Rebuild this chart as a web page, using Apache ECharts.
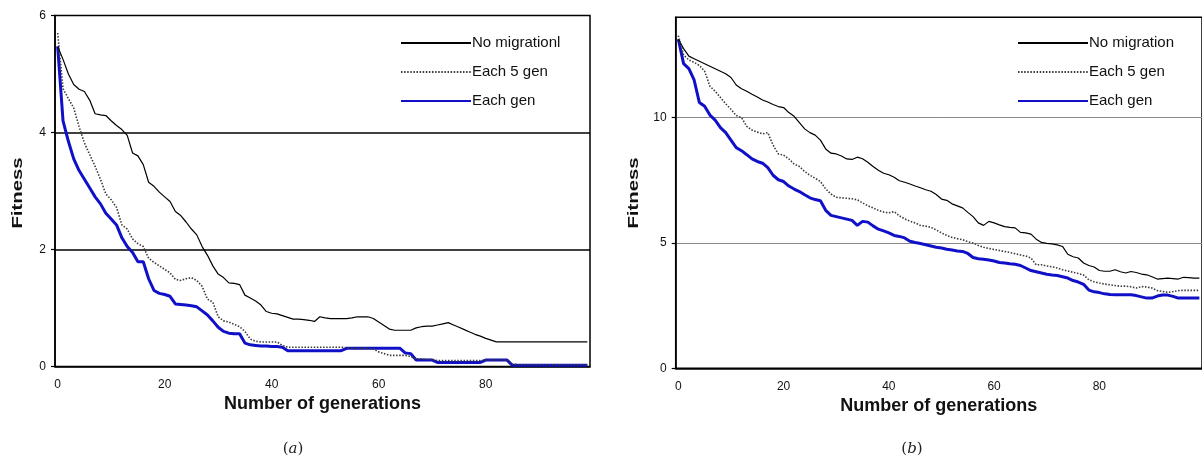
<!DOCTYPE html>
<html>
<head>
<meta charset="utf-8">
<script src="https://cdn.jsdelivr.net/npm/echarts@6/dist/echarts.min.js"></script>
<style>
  html, body { margin: 0; padding: 0; background: #fff; }
  #chart { width: 1202px; height: 459px; }
</style>
</head>
<body>
<div id="chart"></div>
<script>
// Generations 0..99 on both panels
const generations = Array.from({ length: 100 }, (_, i) => String(i));

// Panel (a): best fitness per generation
const aNoMigration = [
  5.47, 5.25, 5.00, 4.82, 4.74, 4.70, 4.55, 4.32, 4.30, 4.29,
  4.20, 4.12, 4.05, 3.95, 3.65, 3.60, 3.45, 3.15, 3.08, 2.98,
  2.90, 2.82, 2.65, 2.58, 2.47, 2.35, 2.25, 2.05, 1.90, 1.72,
  1.58, 1.52, 1.43, 1.42, 1.40, 1.22, 1.17, 1.12, 1.05, 0.94,
  0.91, 0.90, 0.87, 0.84, 0.81, 0.81, 0.80, 0.79, 0.77, 0.85,
  0.83, 0.82, 0.82, 0.82, 0.82, 0.83, 0.85, 0.85, 0.85, 0.82,
  0.76, 0.70, 0.64, 0.62, 0.62, 0.62, 0.62, 0.66, 0.68, 0.69,
  0.69, 0.71, 0.73, 0.75, 0.71, 0.67, 0.63, 0.59, 0.55, 0.52,
  0.48, 0.45, 0.42, 0.42, 0.42, 0.42, 0.42, 0.42, 0.42, 0.42,
  0.42, 0.42, 0.42, 0.42, 0.42, 0.42, 0.42, 0.42, 0.42, 0.42
];
const aEach5Gen = [
  5.70, 4.75, 4.58, 4.42, 4.10, 3.82, 3.62, 3.42, 3.20, 2.95,
  2.85, 2.72, 2.42, 2.35, 2.18, 2.10, 2.05, 1.85, 1.78, 1.72,
  1.66, 1.60, 1.49, 1.47, 1.50, 1.52, 1.47, 1.37, 1.15, 1.10,
  0.85, 0.78, 0.76, 0.72, 0.68, 0.60, 0.47, 0.43, 0.42, 0.42,
  0.42, 0.42, 0.36, 0.33, 0.33, 0.33, 0.33, 0.33, 0.33, 0.33,
  0.33, 0.33, 0.33, 0.33, 0.32, 0.31, 0.31, 0.31, 0.31, 0.30,
  0.25, 0.22, 0.19, 0.19, 0.19, 0.19, 0.17, 0.13, 0.13, 0.12,
  0.12, 0.10, 0.10, 0.10, 0.10, 0.10, 0.10, 0.10, 0.10, 0.10,
  0.11, 0.11, 0.11, 0.11, 0.11, 0.04, 0.03, 0.03, 0.03, 0.03,
  0.03, 0.03, 0.03, 0.03, 0.03, 0.03, 0.03, 0.03, 0.03, 0.03
];
const aEachGen = [
  5.47, 4.20, 3.85, 3.55, 3.35, 3.20, 3.05, 2.90, 2.78, 2.62,
  2.52, 2.42, 2.20, 2.05, 1.95, 1.79, 1.79, 1.50, 1.30, 1.25,
  1.23, 1.20, 1.07, 1.06, 1.05, 1.04, 1.02, 0.95, 0.88, 0.78,
  0.67, 0.60, 0.57, 0.56, 0.56, 0.40, 0.37, 0.36, 0.35, 0.35,
  0.34, 0.34, 0.33, 0.27, 0.27, 0.27, 0.27, 0.27, 0.27, 0.27,
  0.27, 0.27, 0.27, 0.27, 0.31, 0.31, 0.31, 0.31, 0.31, 0.31,
  0.31, 0.31, 0.31, 0.31, 0.31, 0.23, 0.22, 0.11, 0.11, 0.11,
  0.11, 0.07, 0.07, 0.07, 0.07, 0.07, 0.07, 0.07, 0.07, 0.07,
  0.11, 0.11, 0.11, 0.11, 0.11, 0.02, 0.02, 0.02, 0.02, 0.02,
  0.02, 0.02, 0.02, 0.02, 0.02, 0.02, 0.02, 0.02, 0.02, 0.02
];

// Panel (b): best fitness per generation
const bNoMigration = [
  13.13, 12.75, 12.45, 12.35, 12.25, 12.15, 12.05, 11.95, 11.85, 11.75,
  11.60, 11.30, 11.15, 11.05, 10.93, 10.82, 10.70, 10.62, 10.52, 10.44,
  10.40, 10.20, 10.05, 9.80, 9.55, 9.40, 9.30, 9.10, 8.75, 8.58,
  8.55, 8.47, 8.35, 8.33, 8.42, 8.36, 8.22, 8.05, 7.90, 7.78,
  7.72, 7.62, 7.48, 7.42, 7.35, 7.27, 7.20, 7.12, 7.06, 6.93,
  6.75, 6.70, 6.56, 6.48, 6.40, 6.22, 6.05, 5.80, 5.70, 5.86,
  5.80, 5.72, 5.65, 5.62, 5.60, 5.42, 5.40, 5.35, 5.15, 5.02,
  4.98, 4.96, 4.92, 4.86, 4.55, 4.45, 4.40, 4.20, 4.10, 4.04,
  3.90, 3.87, 3.87, 3.93, 3.85, 3.80, 3.86, 3.82, 3.76, 3.73,
  3.65, 3.56, 3.58, 3.60, 3.58, 3.56, 3.63, 3.62, 3.60, 3.60
];
const bEach5Gen = [
  13.27, 12.50, 12.30, 12.20, 12.08, 11.85, 11.25, 11.05, 10.80, 10.55,
  10.33, 10.08, 10.00, 9.65, 9.50, 9.42, 9.35, 9.40, 8.90, 8.55,
  8.50, 8.35, 8.15, 8.05, 7.85, 7.70, 7.58, 7.45, 7.15, 6.95,
  6.82, 6.80, 6.78, 6.76, 6.72, 6.60, 6.48, 6.40, 6.30, 6.23,
  6.20, 6.25, 6.08, 5.96, 5.87, 5.80, 5.70, 5.67, 5.62, 5.52,
  5.40, 5.30, 5.22, 5.17, 5.13, 5.05, 5.00, 4.90, 4.83, 4.78,
  4.74, 4.70, 4.66, 4.62, 4.57, 4.52, 4.48, 4.40, 4.13, 4.13,
  4.08, 4.05, 4.00, 3.93, 3.88, 3.83, 3.78, 3.72, 3.53, 3.45,
  3.40, 3.36, 3.33, 3.30, 3.27, 3.28, 3.25, 3.20, 3.26, 3.24,
  3.20, 3.10, 3.06, 3.03, 3.06, 3.10, 3.11, 3.11, 3.11, 3.11
];
const bEachGen = [
  13.13, 12.15, 11.95, 11.50, 10.60, 10.45, 10.10, 9.90, 9.60, 9.40,
  9.10, 8.80, 8.68, 8.52, 8.35, 8.25, 8.18, 8.00, 7.70, 7.52,
  7.45, 7.27, 7.15, 7.05, 6.92, 6.80, 6.73, 6.68, 6.30, 6.10,
  6.05, 6.00, 5.95, 5.90, 5.70, 5.86, 5.83, 5.68, 5.55, 5.48,
  5.40, 5.30, 5.26, 5.20, 5.07, 5.02, 4.98, 4.93, 4.88, 4.83,
  4.80, 4.75, 4.72, 4.68, 4.66, 4.58, 4.42, 4.37, 4.35, 4.32,
  4.28, 4.22, 4.20, 4.17, 4.15, 4.10, 4.00, 3.90, 3.85, 3.80,
  3.75, 3.72, 3.70, 3.65, 3.60, 3.50, 3.44, 3.35, 3.12, 3.05,
  3.02, 2.97, 2.94, 2.93, 2.93, 2.93, 2.93, 2.90, 2.85, 2.80,
  2.80, 2.88, 2.92, 2.92, 2.87, 2.80, 2.80, 2.80, 2.80, 2.80
];

const legendA = ['No migrationl', 'Each 5 gen', 'Each gen'];
const legendB = ['No migration', 'Each 5 gen', 'Each gen'];
const panelCaptions = ['a', 'b'];

const SANS = '"Liberation Sans", Arial, sans-serif';
const SERIF = '"DejaVu Serif", "Liberation Serif", serif';

const styleNoMig = { color: '#000', width: 1.2, type: 'solid' };
const styleEach5 = { color: '#3a3a3a', width: 1.6, type: [1.5, 1.6] };
const styleEach = { color: '#1010c8', width: 3, type: 'solid' };

function xAxisFor(gridIndex) {
  return {
    type: 'category',
    gridIndex,
    data: generations,
    boundaryGap: true,
    name: 'Number of generations',
    nameLocation: 'middle',
    nameGap: 26,
    nameTextStyle: { fontFamily: SANS, fontSize: 18, fontWeight: 'bold', color: '#111' },
    axisLine: { lineStyle: { color: '#000', width: 1.5 } },
    axisTick: { interval: 9, length: 4, lineStyle: { color: '#000', width: 1.2 } },
    axisLabel: { interval: 19, margin: 12, fontFamily: SANS, fontSize: 12, color: '#111' },
    splitLine: { show: false }
  };
}

function yAxisFor(gridIndex, max, interval, gridColor, gridWidth, showTop) {
  return {
    type: 'value',
    gridIndex,
    min: 0,
    max,
    interval,
    axisLine: { show: true, lineStyle: { color: '#000', width: 1.5 } },
    axisTick: { show: true, length: 4, lineStyle: { color: '#000', width: 1.2 } },
    axisLabel: { margin: 9, fontFamily: SANS, fontSize: 12, color: '#111', showMaxLabel: showTop },
    splitLine: {
      show: true, showMinLine: false, showMaxLine: false,
      lineStyle: { color: gridColor, width: gridWidth }
    }
  };
}

function lineSeries(name, data, axisIndex, style, z) {
  return {
    name, type: 'line', data,
    xAxisIndex: axisIndex, yAxisIndex: axisIndex,
    symbol: 'none', smooth: false, z,
    lineStyle: style, itemStyle: { color: style.color },
    emphasis: { disabled: true }, animation: false
  };
}

// Legend keys are plain line samples: the marker is made fully transparent
function legendAt(left, names) {
  return {
    data: names, orient: 'vertical', left, top: 35.5, padding: 0,
    itemWidth: 70, itemHeight: 14, itemGap: 14,
    itemStyle: { opacity: 0 },
    textStyle: { fontFamily: SANS, fontSize: 15, color: '#111', lineHeight: 14, padding: [0, 0, 0, -4] },
    selectedMode: false
  };
}

function verticalTitle(x, y) {
  return {
    type: 'text', x, y, rotation: Math.PI / 2, scaleX: 1.45,
    style: {
      text: 'Fitness', font: 'bold 14px ' + SANS, fill: '#111',
      align: 'center', verticalAlign: 'middle'
    }
  };
}

function caption(x, y, letter) {
  return {
    type: 'text', x, y,
    style: {
      text: '{p|(}{i|' + letter + '}{p|)}',
      align: 'center', verticalAlign: 'middle',
      rich: {
        p: { fontFamily: SERIF, fontSize: 15, fill: '#222' },
        i: { fontFamily: SERIF, fontSize: 15, fontStyle: 'italic', fill: '#222' }
      }
    }
  };
}

const chart = echarts.init(document.getElementById('chart'), null, { renderer: 'canvas' });
chart.setOption({
  backgroundColor: '#fff',
  animation: false,
  grid: [
    { left: 55, top: 15.5, width: 535, height: 351, show: true, borderColor: '#000', borderWidth: 1.5, backgroundColor: '#fff' },
    { left: 675.7, top: 17.3, width: 533, height: 351, show: true, borderColor: '#000', borderWidth: 1.5, backgroundColor: '#fff' }
  ],
  xAxis: [xAxisFor(0), xAxisFor(1)],
  yAxis: [
    yAxisFor(0, 6, 2, '#000', 1.5, true),
    yAxisFor(1, 14, 5, '#8a8a8a', 1, false)
  ],
  legend: [legendAt(400, legendA), legendAt(1017, legendB)],
  series: [
    lineSeries('No migrationl', aNoMigration, 0, styleNoMig, 3),
    lineSeries('Each 5 gen', aEach5Gen, 0, styleEach5, 4),
    lineSeries('Each gen', aEachGen, 0, styleEach, 2),
    lineSeries('No migration', bNoMigration, 1, styleNoMig, 3),
    lineSeries('Each 5 gen', bEach5Gen, 1, styleEach5, 4),
    lineSeries('Each gen', bEachGen, 1, styleEach, 2)
  ],
  graphic: [
    verticalTitle(18, 193),
    verticalTitle(634, 193),
    caption(293, 449, panelCaptions[0]),
    caption(912, 449, panelCaptions[1])
  ]
});
</script>
</body>
</html>
